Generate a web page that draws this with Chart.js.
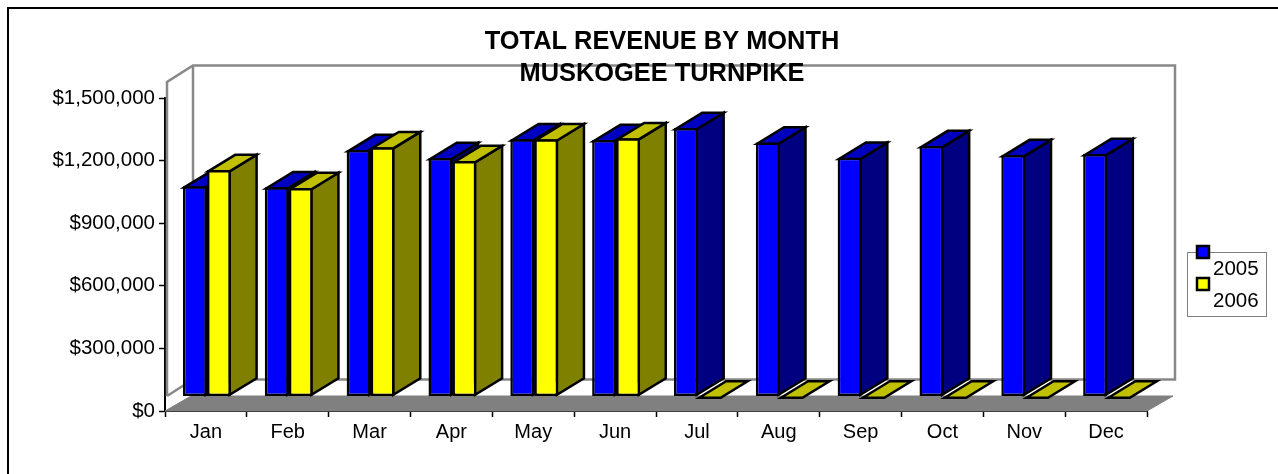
<!DOCTYPE html>
<html>
<head>
<meta charset="utf-8">
<title>Total revenue by month</title>
<script src="https://cdn.jsdelivr.net/npm/chart.js@4"></script>
<style>
  html, body { margin: 0; padding: 0; background: #fff; overflow: hidden; }
  #frame { position: absolute; left: 7px; top: 7px; right: 0; bottom: 0; border-left: 2px solid #000; border-top: 2px solid #000; }
  #revenueChart { position: absolute; left: 0; top: 0; }
</style>
</head>
<body>
<div id="frame"></div>
<canvas id="revenueChart" width="1278" height="474"></canvas>
<script>
  const months = ['Jan', 'Feb', 'Mar', 'Apr', 'May', 'Jun', 'Jul', 'Aug', 'Sep', 'Oct', 'Nov', 'Dec'];
  const revenue2005 = [1008000, 1003000, 1181000, 1143000, 1233000, 1229000, 1287000, 1217000, 1144000, 1200000, 1157000, 1162000];
  const revenue2006 = [1085000, 999000, 1195000, 1128000, 1233000, 1238000, 0, 0, 0, 0, 0, 0];
  const titleLines = ['TOTAL REVENUE BY MONTH', 'MUSKOGEE TURNPIKE'];
  const seriesNames = ['2005', '2006'];

  const fontName = '"Liberation Sans", Arial, sans-serif';
  const faces = [
    { front: '#0000ff', top: '#0000c0', side: '#000080' },
    { front: '#ffff00', top: '#c0c000', side: '#808000' }
  ];

  // 3D offsets in px
  const barLift = 14.5;  // bars stand this far above the axis line
  const depthX = 27;
  const depthY = 16.5;
  const floorX = 26;
  const barLine = 2.5;

  function poly(ctx, pts, fill, stroke, width) {
    ctx.beginPath();
    pts.forEach(function (p, i) {
      if (i === 0) ctx.moveTo(p[0], p[1]);
      else ctx.lineTo(p[0], p[1]);
    });
    if (fill) {
      ctx.closePath();
      ctx.fillStyle = fill;
      ctx.fill();
    }
    ctx.strokeStyle = stroke;
    ctx.lineWidth = width;
    ctx.lineJoin = 'miter';
    ctx.stroke();
  }

  const box3d = {
    id: 'box3d',
    beforeDatasetsDraw: function (chart) {
      const ctx = chart.ctx;
      const area = chart.chartArea;
      const yTop = chart.scales.y.getPixelForValue(1500000);
      const yZero = chart.scales.y.getPixelForValue(0);
      const floorY = yZero - 15;
      const left = area.left + 2;
      const wallTop = yTop - 16;

      // walls
      poly(ctx, [[left, floorY], [left, wallTop], [left + depthX - 1, wallTop - depthY], [area.right + depthX + 1, wallTop - depthY], [area.right + depthX + 1, floorY - depthY], [left + depthX - 1, floorY - depthY], [left, floorY]], null, '#888', 2.5);
      poly(ctx, [[left + depthX - 1, wallTop - depthY], [left + depthX - 1, floorY - depthY]], null, '#888', 2.5);

      // floor
      poly(ctx, [[area.left, yZero], [area.right, yZero], [area.right + floorX, floorY], [area.left + floorX, floorY]], '#808080', '#808080', 1);

      // bars: back faces first, then the library's own bar element
      const inset = barLine / 2;
      ctx.save();
      ctx.translate(1, -barLift);
      chart.data.datasets.forEach(function (ds, i) {
        const meta = chart.getDatasetMeta(i);
        meta.data.forEach(function (bar) {
          const p = bar.getProps(['x', 'y', 'base', 'width'], true);
          const l = p.x - p.width / 2;
          const r = p.x + p.width / 2;
          const h = p.base - p.y;
          if (h > 0) {
            poly(ctx, [[r - inset, p.y + inset], [r - inset + depthX, p.y + inset - depthY], [r - inset + depthX, p.base - inset - depthY], [r - inset, p.base - inset]], faces[i].side, '#000', barLine);
          }
          poly(ctx, [[l + inset, p.y + inset], [l + inset + depthX, p.y + inset - depthY], [r - inset + depthX, p.y + inset - depthY], [r - inset, p.y + inset]], faces[i].top, '#000', barLine);
          bar.draw(ctx, area);
        });
      });
      ctx.restore();
      return false;
    },
    afterDraw: function (chart) {
      const ctx = chart.ctx;
      ctx.save();

      // title
      ctx.fillStyle = '#000';
      ctx.textAlign = 'center';
      ctx.textBaseline = 'alphabetic';
      ctx.font = 'bold 25.4px ' + fontName;
      ctx.fillText(titleLines[0], 662, 49);
      ctx.fillText(titleLines[1], 662, 81);

      // legend
      ctx.strokeStyle = '#808080';
      ctx.lineWidth = 1;
      ctx.fillStyle = '#fff';
      ctx.fillRect(1188, 252, 79, 64);
      ctx.strokeRect(1187.5, 252.5, 79, 64);
      ctx.font = '20.5px ' + fontName;
      ctx.textAlign = 'left';
      seriesNames.forEach(function (name, i) {
        const top = 246 + i * 32;
        ctx.fillStyle = faces[i].front;
        ctx.fillRect(1197, top, 12, 12);
        ctx.strokeStyle = '#000';
        ctx.lineWidth = 2.5;
        ctx.strokeRect(1197, top, 12, 12);
        ctx.fillStyle = '#000';
        ctx.fillText(name, 1213, 275 + i * 32);
      });
      ctx.restore();
    }
  };

  new Chart(document.getElementById('revenueChart'), {
    type: 'bar',
    data: {
      labels: months,
      datasets: [
        { label: seriesNames[0], data: revenue2005, backgroundColor: faces[0].front },
        { label: seriesNames[1], data: revenue2006, backgroundColor: faces[1].front }
      ]
    },
    options: {
      responsive: false,
      animation: false,
      events: [],
      categoryPercentage: 0.585,
      barPercentage: 1,
      elements: {
        bar: { borderColor: '#000', borderWidth: barLine, borderSkipped: false, inflateAmount: 0 }
      },
      layout: { padding: { left: 0, right: 131, top: 98, bottom: 0 } },
      plugins: {
        legend: { display: false },
        title: { display: false },
        tooltip: { enabled: false }
      },
      scales: {
        x: {
          afterFit: function (scale) { scale.height = 63; },
          grid: { drawOnChartArea: false, tickLength: 6, tickColor: '#000', tickWidth: 1.5, offset: true },
          border: { color: '#000', width: 2 },
          ticks: { color: '#000', font: { family: fontName, size: 20 }, padding: 3, maxRotation: 0, autoSkip: false }
        },
        y: {
          min: 0,
          max: 1500000,
          afterFit: function (scale) { scale.width = 165; },
          grid: { drawOnChartArea: false, tickLength: 6, tickColor: '#000', tickWidth: 1.5 },
          border: { color: '#000', width: 2 },
          ticks: {
            stepSize: 300000,
            color: '#000',
            padding: 4,
            font: { family: fontName, size: 20.5 },
            callback: function (value) { return '$' + value.toLocaleString('en-US'); }
          }
        }
      }
    },
    plugins: [box3d]
  });
</script>
</body>
</html>
